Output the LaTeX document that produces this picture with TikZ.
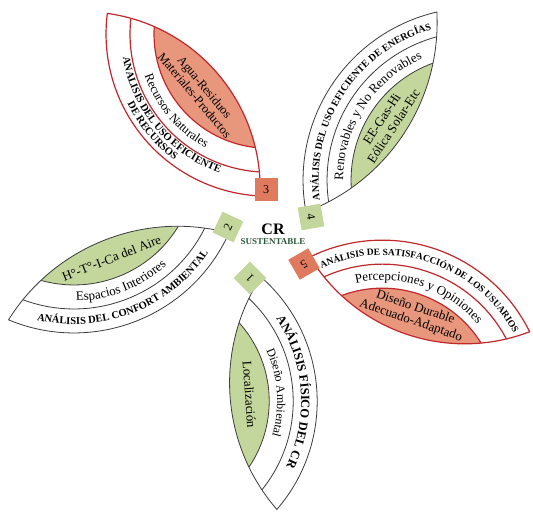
\documentclass[tikz,border=0pt]{standalone}
\usepackage{fontspec}
\setmainfont{Liberation Serif}
\usetikzlibrary{decorations.text}
\definecolor{grn}{HTML}{C3D69B}
\definecolor{sal}{HTML}{E8977C}
\definecolor{salsq}{HTML}{E07A5F}
\definecolor{redl}{HTML}{C0282D}
\definecolor{grayl}{HTML}{3C3C3C}
\definecolor{dgreen}{HTML}{2D5A3C}
\def\mysA{48}\def\mysB{39}\def\mybw{24}
\newcommand\petalgeom[1]{%
  \pgfmathsetmacro\myL{#1}%
  \pgfmathsetmacro\myH{\myL/2}%
  \pgfmathsetmacro\myRz{\myH/(2*\mysA)*\myH+\mysA/2}%
  \pgfmathsetmacro\myRo{\myRz-\mybw}%
  \pgfmathsetmacro\myRt{\myRz-2*\mybw}%
  \pgfmathsetmacro\myCy{\mysA-\myRz}%
  \pgfmathsetmacro\myBz{atan2(\myRz-\mysA,\myH)}%
  \pgfmathsetmacro\myRB{\myH/(2*\mysB)*\myH+\mysB/2}%
  \pgfmathsetmacro\myCB{\myRB-\mysB}%
  \pgfmathsetmacro\myBB{atan2(\myRB-\mysB,\myH)}%
  \pgfmathsetmacro\myIc{(\mysA-2*\mybw-\mysB)/2}%
}
\tikzset{
  lens/.style={insert path={(0,0) arc[start angle={180-\myBz}, end angle={\myBz}, radius=\myRz] arc[start angle={-\myBB}, end angle={-180+\myBB}, radius=\myRB] -- cycle}},
  gline/.style={draw=grayl, line width=0.8pt},
  rline/.style={draw=redl, line width=1.2pt},
  numsq/.style={minimum size=23pt, inner sep=0pt, font=\fontsize{12}{12}\selectfont},
  inner/.style={inner sep=0pt, align=center, font=\fontsize{13}{14}\selectfont},
}
\newcommand\Petal[7]{%
  \petalgeom{#4}%
  \begin{scope}[shift={(#1,#2)}, rotate=#3]
    \path[fill=white, lens];
    \begin{scope}
      \clip[lens];
      \fill[#6] (\myH,\myCy) circle[radius=\myRt];
      \draw[#5] (\myH,\myCy) circle[radius=\myRo];
      \draw[#5] (\myH,\myCy) circle[radius=\myRt];
    \end{scope}
    \path[#5, lens];
    #7
  \end{scope}}
\newcommand\FwdText[2]{%
  \pgfmathsetmacro\myr{#1}%
  \pgfmathsetmacro\mya{180-\myBz+12}%
  \pgfmathsetmacro\myb{\myBz-12}%
  \path[decorate, decoration={text along path, text align=center, text={#2}}]
    ([shift={(\myH,\myCy)}]\mya:\myr) arc[start angle=\mya, end angle=\myb, radius=\myr];}
\newcommand\RevText[2]{%
  \pgfmathsetmacro\myr{#1}%
  \pgfmathsetmacro\mya{\myBz-12}%
  \pgfmathsetmacro\myb{180-\myBz+12}%
  \path[decorate, decoration={text along path, text align=center, text={#2}}]
    ([shift={(\myH,\myCy)}]\mya:\myr) arc[start angle=\mya, end angle=\myb, radius=\myr];}
\begin{document}
\begin{tikzpicture}[x=1pt,y=1pt]
\path[fill=white, use as bounding box] (0,0) rectangle (533,513);
% petal 1
\Petal{261}{236}{-86.1}{233}{gline}{grn}{%
  \FwdText{\myRz-16}{|\fontsize{12.5}{12.5}\selectfont\bfseries|ANÁLISIS FÍSICO DEL CR}
  \FwdText{\myRz-40}{|\fontsize{12}{12}\selectfont|Diseño Ambiental}
  \node[inner, rotate=-86.1] (c1) at (\myH,\myIc) {Localización};}
% petal 2
\Petal{229}{280}{201.5}{237}{gline}{grn}{%
  \RevText{\myRz-8.5}{|\fontsize{10.5}{10.5}\selectfont\bfseries|ANÁLISIS DEL CONFORT AMBIENTAL}
  \RevText{\myRz-32}{|\fontsize{13}{13}\selectfont|Espacios Interiores}
  \node[inner, rotate=21.5] (c2) at (\myH,\myIc) {H°-T°-I-Ca del Aire};}
% petal 3
\def\mysA{52}\def\mysB{46}
\Petal{260}{317}{129.9}{238}{rline}{sal}{%
  \RevText{\myRz-15}{|\fontsize{10.5}{10.5}\selectfont\bfseries|ANALISIS DEL USO EFICIENTE}
  \RevText{\myRz-5}{|\fontsize{10.5}{10.5}\selectfont\bfseries|DE RECURSOS}
  \RevText{\myRz-32}{|\fontsize{12.5}{12.5}\selectfont|Recursos Naturales}
  \node[inner, font=\fontsize{12.5}{13}\selectfont, rotate=-50.1] (c3) at (\myH,\myIc) {Agua-Residuos\\Materiales-Productos};}
\def\mysA{48}\def\mysB{39}
% petal 4
\Petal{306}{301}{56.8}{239}{gline}{grn}{%
  \FwdText{\myRz-15.5}{|\fontsize{10}{10}\selectfont\bfseries|ANÁLISIS DEL USO EFICIENTE DE ENERGÍAS}
  \FwdText{\myRz-40}{|\fontsize{13}{13}\selectfont|Renovables y No Renovables}
  \node[inner, rotate=56.8] (c4) at (\myH,\myIc) {EE-Gas-Hi\\Eólica Solar-Etc};}
% petal 5
\def\mysB{42}
\Petal{310}{256}{-18.8}{232}{rline}{sal}{%
  \FwdText{\myRz-15}{|\fontsize{9.5}{9.5}\selectfont\bfseries|ANÁLISIS DE SATISFACCIÓN DE LOS USUARIOS}
  \FwdText{\myRz-40}{|\fontsize{13}{13}\selectfont|Percepciones y Opiniones}
  \node[inner, rotate=-18.8] (c5) at (\myH,\myIc) {Diseño Durable\\Adecuado-Adaptado};}
% squares
\node[numsq, fill=grn, rotate=135] (n1) at (250,235) {1};
\node[numsq, fill=grn, rotate=65] (n2) at (228,286) {2};
\node[numsq, fill=salsq, rotate=0] (n3) at (266,323) {3};
\node[numsq, fill=grn, rotate=-80] (n4) at (311,296) {4};
\node[numsq, fill=salsq, rotate=-150] (n5) at (304,249) {5};
% centre
\node[font=\fontsize{16}{16}\selectfont\bfseries] (cr) at (273,284) {CR};
\node[font=\fontsize{9}{9}\selectfont\bfseries, text=dgreen] (sus) at (273,271) {SUSTENTABLE};
\end{tikzpicture}
\end{document}
